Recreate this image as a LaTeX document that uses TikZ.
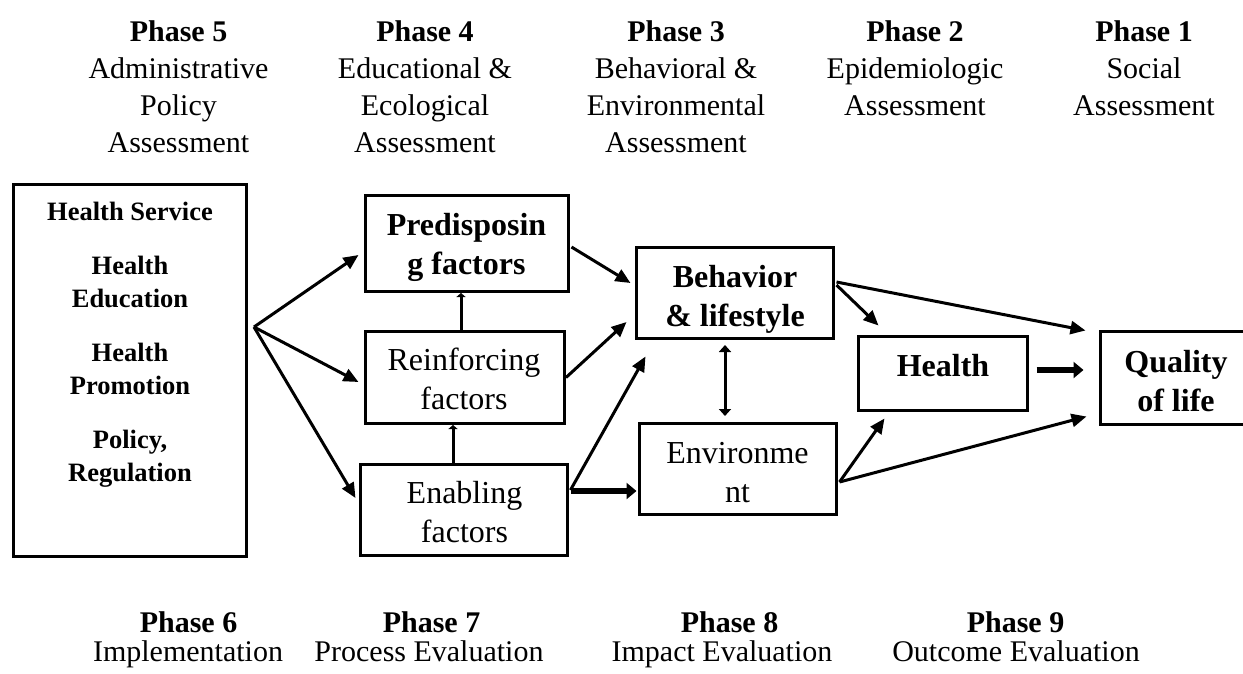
\documentclass[tikz,border=0pt]{standalone}
\usepackage{fontspec}
\setmainfont{Liberation Serif}
\usetikzlibrary{arrows.meta,calc}
\begin{document}
\begin{tikzpicture}[x=1pt,y=-1pt,
  box/.style={draw,line width=3pt,inner sep=0pt,rectangle},
  hdr/.style={align=center,inner sep=0pt,anchor=north,font=\fontsize{30}{37}\selectfont},
  ftr/.style={inner sep=0pt,anchor=base,font=\fontsize{30}{37}\selectfont},
  btxt/.style={align=center,inner sep=0pt,anchor=north,font=\fontsize{32}{39}\selectfont},
  ltxt/.style={align=center,inner sep=0pt,anchor=north,font=\fontsize{26.5}{33}\selectfont\bfseries},
  arr/.style={line width=3pt,-{Triangle[length=15pt,width=13pt]}},
  tarr/.style={line width=3pt,-{Triangle[length=4pt,width=9pt]}},
  darr/.style={line width=3pt,{Triangle[length=7pt,width=12pt]}-{Triangle[length=7pt,width=12pt]}},
  tharr/.style={line width=6.5pt,-{Triangle[length=10pt,width=16pt]}}]
\useasboundingbox (0,0) rectangle (1243,673);
\clip (0,0) rectangle (1243,673);
% headers
\node[hdr] (h5) at (178.5,15.1) {\strut\textbf{Phase 5}\\\strut Administrative\\\strut Policy\\\strut Assessment};
\node[hdr] (h4) at (425,15.1) {\strut\textbf{Phase 4}\\\strut Educational \&\\\strut Ecological\\\strut Assessment};
\node[hdr] (h3) at (676,15.1) {\strut\textbf{Phase 3}\\\strut Behavioral \&\\\strut Environmental\\\strut Assessment};
\node[hdr] (h2) at (915,15.1) {\strut\textbf{Phase 2}\\\strut Epidemiologic\\\strut Assessment};
\node[hdr] (h1) at (1144,15.1) {\strut\textbf{Phase 1}\\\strut Social\\\strut Assessment};
% boxes
\node[box,minimum width=233pt,minimum height=372pt] (svc) at (130,370.5) {};
\node[box,minimum width=203pt,minimum height=96pt] (pred) at (467,243.5) {};
\node[box,minimum width=199pt,minimum height=92pt] (reinf) at (465,377.5) {};
\node[box,minimum width=207pt,minimum height=91pt] (enab) at (464,510) {};
\node[box,minimum width=197pt,minimum height=91pt] (behav) at (735,293) {};
\node[box,minimum width=197pt,minimum height=91pt] (env) at (738,469) {};
\node[box,minimum width=169pt,minimum height=74pt] (health) at (943,373.5) {};
\node[box,minimum width=151pt,minimum height=93pt] (qol) at (1176,378) {};
% box texts
\node[ltxt] (svcT) at (130,196.9) {\strut Health Service\\[21pt]\strut Health\\\strut Education\\[21pt]\strut Health\\\strut Promotion\\[21pt]\strut Policy,\\\strut Regulation};
\node[btxt,font=\fontsize{32}{39}\selectfont\bfseries] (predT) at (466.5,207.7) {\strut Predisposin\\\strut g factors};
\node[btxt] (reinfT) at (464,342.7) {\strut Reinforcing\\\strut factors};
\node[btxt] (enabT) at (464.5,475.7) {\strut Enabling\\\strut factors};
\node[btxt,font=\fontsize{32}{39}\selectfont\bfseries] (behavT) at (735,259.7) {\strut Behavior\\\strut \& lifestyle};
\node[btxt] (envT) at (737.5,435.7) {\strut Environme\\\strut nt};
\node[btxt,font=\fontsize{32}{39}\selectfont\bfseries] (healthT) at (943,348.7) {\strut Health};
\node[btxt,font=\fontsize{32}{39}\selectfont\bfseries] (qolT) at (1176,344.7) {\strut Quality\\\strut of life};
% footers
\node[ftr] (f6) at (188.5,632) {\textbf{Phase 6}};
\node[ftr] (f6s) at (188,661) {Implementation};
\node[ftr] (f7) at (431.5,632) {\textbf{Phase 7}};
\node[ftr] (f7s) at (429,661) {Process Evaluation};
\node[ftr] (f8) at (729.5,632) {\textbf{Phase 8}};
\node[ftr] (f8s) at (722,661) {Impact Evaluation};
\node[ftr] (f9) at (1015.5,632) {\textbf{Phase 9}};
\node[ftr] (f9s) at (1016,661) {Outcome Evaluation};
% connectors
\coordinate (fan) at (254,327);
\draw[arr] (fan) -- ($(pred.west)+(-5.5,11.5)$);
\draw[arr] (fan) -- ($(reinf.west)+(-5.5,4.5)$);
\draw[arr] (fan) -- ($(enab.west)+(-3.5,-12)$);
\draw[tarr] ([xshift=-4pt]reinf.north) -- ([xshift=-6pt]pred.south);
\draw[tarr] ([xshift=-11pt]enab.north) -- ([xshift=-12pt]reinf.south);
\draw[arr] ($(pred.east)+(1.5,3.5)$) -- ($(behav.west)+(-4.5,-10)$);
\draw[arr] (reinf.east) -- ($(behav.west)+(-8.5,29)$);
\draw[arr] ($(enab.east)+(1.5,-20)$) -- ($(behav.south west)+(10.5,16.5)$);
\draw[tharr] ($(enab.east)+(1.5,-19)$) -- ($(env.west)+(-1.5,22)$);
\draw[darr] ($(behav.south)+(-10,5)$) -- ($(env.north)+(-13,-6)$);
\draw[arr] ($(behav.east)+(1.5,-8)$) -- ($(health.north west)+(21.5,-9.5)$);
\draw[arr] ($(behav.east)+(1.5,-11)$) -- ($(qol.north west)+(-13.5,0.5)$);
\draw[arr] ($(env.east)+(1.5,13)$) -- ($(health.south west)+(27.5,6.5)$);
\draw[arr] ($(env.east)+(1.5,13)$) -- ($(qol.south west)+(-12.5,-9.5)$);
\draw[tharr] ($(health.east)+(7.5,-3.5)$) -- ($(qol.west)+(-15.5,-8)$);
\end{tikzpicture}
\end{document}
